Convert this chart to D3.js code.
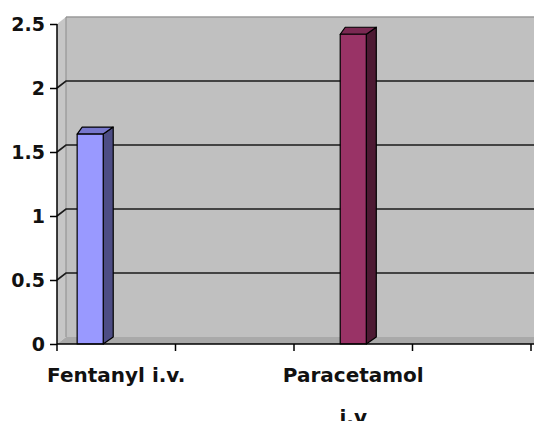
<!DOCTYPE html>
<html>
<head>
<meta charset="utf-8">
<script src="https://cdn.jsdelivr.net/npm/d3@7"></script>
<style>
  body { margin: 0; background: #fff; }
  svg { display: block; }
</style>
</head>
<body>
<svg id="chart"></svg>
<script>
// categories on the x axis (blank ones have no label), one value list per series
const categories = ["Fentanyl i.v.", "", "Paracetamol\ni.v", ""]
const seriesNames = ["Fentanyl", "Paracetamol"]
const fentanylValues = [1.64, null, null, null]
const paracetamolValues = [null, null, 2.42, null]
const yTicks = [0, 0.5, 1, 1.5, 2, 2.5]

const seriesColors = {
    Fentanyl: {front: "#9999ff", top: "#7777cc", side: "#4d4d85"},
    Paracetamol: {front: "#993366", top: "#7a2952", side: "#4d1a33"}
}

width = 534
height = 421
marginTop = 24
marginBottom = 77
marginLeft = 57
marginRight = 3

// 3d offsets
const wallDx = 9, wallDy = -7
const barDxL = 5, barDxR = 10, barDy = -7

const svg = d3.select('#chart')
              .attr('width', width)
              .attr('height', height)
              .attr('viewBox', [0, 0, width, height])

const x0 = d3.scaleBand(d3.range(categories.length), [marginLeft, width - marginRight])
const x1 = d3.scaleBand(seriesNames, [x0.bandwidth() * 0.17, x0.bandwidth() * 0.61])
const y = d3.scaleLinear([0, 2.5], [height - marginBottom, marginTop])

const y0 = y(0)
const yTop = y(2.5)

// back wall
svg.append('rect')
   .attr('x', marginLeft + wallDx)
   .attr('y', yTop + wallDy)
   .attr('width', width - marginLeft - wallDx)
   .attr('height', y0 - yTop)
   .attr('fill', '#c0c0c0')
svg.append('line')
   .attr('x1', marginLeft + wallDx).attr('x2', width)
   .attr('y1', yTop + wallDy).attr('y2', yTop + wallDy)
   .attr('stroke', '#9a9a9a').attr('stroke-width', 1.5)

// side wall
svg.append('path')
   .attr('d', `M${marginLeft},${yTop}L${marginLeft + wallDx},${yTop + wallDy}L${marginLeft + wallDx},${y0 + wallDy}L${marginLeft},${y0}Z`)
   .attr('fill', '#c6c6c6')
svg.append('line')
   .attr('x1', marginLeft + wallDx).attr('x2', marginLeft + wallDx)
   .attr('y1', yTop + wallDy).attr('y2', y0 + wallDy)
   .attr('stroke', '#8c8c8c')

// floor
svg.append('path')
   .attr('d', `M${marginLeft},${y0}L${marginLeft + wallDx},${y0 + wallDy}L${width},${y0 + wallDy}L${width},${y0}Z`)
   .attr('fill', '#a9a9a9')

// gridlines on the back wall + diagonal on the side wall
const grid = svg.append('g')
                .attr('stroke', '#1a1a1a')
                .attr('stroke-width', 1.6)
                .attr('fill', 'none')
grid.selectAll('path')
    .data(yTicks.filter(t => t > 0 && t < 2.5))
    .join('path')
    .attr('d', t => `M${marginLeft},${y(t)}L${marginLeft + wallDx},${y(t) + wallDy}L${width},${y(t) + wallDy}`)

// bars
const bars = []
categories.forEach((c, i) => {
    if (fentanylValues[i] != null) bars.push({cat: i, series: "Fentanyl", value: fentanylValues[i]})
    if (paracetamolValues[i] != null) bars.push({cat: i, series: "Paracetamol", value: paracetamolValues[i]})
})

const barG = svg.append('g')
                .attr('stroke', '#000')
                .attr('stroke-width', 1.2)
                .attr('stroke-linejoin', 'round')
                .selectAll('g')
                .data(bars)
                .join('g')

barG.each(function(d) {
    const g = d3.select(this)
    const bx = x0(d.cat) + x1(d.series)
    const bw = x1.bandwidth()
    const by = y(d.value)
    const col = seriesColors[d.series]
    g.append('path')
     .attr('d', `M${bx + bw},${by}L${bx + bw + barDxR},${by + barDy}L${bx + bw + barDxR},${y0 + barDy}L${bx + bw},${y0}Z`)
     .attr('fill', col.side)
    g.append('path')
     .attr('d', `M${bx},${by}L${bx + barDxL},${by + barDy}L${bx + bw + barDxR},${by + barDy}L${bx + bw},${by}Z`)
     .attr('fill', col.top)
    g.append('rect')
     .attr('x', bx).attr('y', by)
     .attr('width', bw).attr('height', y0 - by)
     .attr('fill', col.front)
})

// y axis
svg.append('g')
   .attr('transform', `translate(${marginLeft},0)`)
   .call(d3.axisLeft(y).tickValues(yTicks).tickSize(7).tickPadding(5).tickFormat(d3.format('')))
   .call(g => g.select('.domain').attr('stroke', '#000').attr('stroke-width', 1.5).attr('d', `M0,${yTop}V${y0}`))
   .call(g => g.selectAll('.tick line').attr('stroke', '#000').attr('stroke-width', 1.5))
   .call(g => g.selectAll('.tick text')
               .attr('fill', '#111')
               .attr('font-family', 'DejaVu Sans')
               .attr('font-weight', 'bold')
               .attr('font-size', 19))

// x axis
const xAxis = svg.append('g')
                 .attr('transform', `translate(0,${y0})`)
xAxis.append('line')
     .attr('x1', marginLeft).attr('x2', width)
     .attr('stroke', '#000').attr('stroke-width', 1.5)
xAxis.selectAll('.tick')
     .data(d3.range(categories.length + 1))
     .join('line')
     .attr('x1', i => i < categories.length ? x0(i) : x0(i - 1) + x0.bandwidth())
     .attr('x2', i => i < categories.length ? x0(i) : x0(i - 1) + x0.bandwidth())
     .attr('y2', 7)
     .attr('stroke', '#000').attr('stroke-width', 1.5)

const labels = xAxis.selectAll('text')
                    .data(categories.map((c, i) => ({c, i})).filter(d => d.c))
                    .join('text')
                    .attr('x', d => x0(d.i) + x0.bandwidth() / 2)
                    .attr('y', 38)
                    .attr('text-anchor', 'middle')
                    .attr('fill', '#111')
                    .attr('font-family', 'DejaVu Sans')
                    .attr('font-weight', 'bold')
                    .attr('font-size', 20)
labels.selectAll('tspan')
      .data(d => d.c.split('\n'))
      .join('tspan')
      .attr('x', function() { return d3.select(this.parentNode).attr('x') })
      .attr('dy', (t, j) => j === 0 ? 0 : 42)
      .text(t => t)
</script>
</body>
</html>
